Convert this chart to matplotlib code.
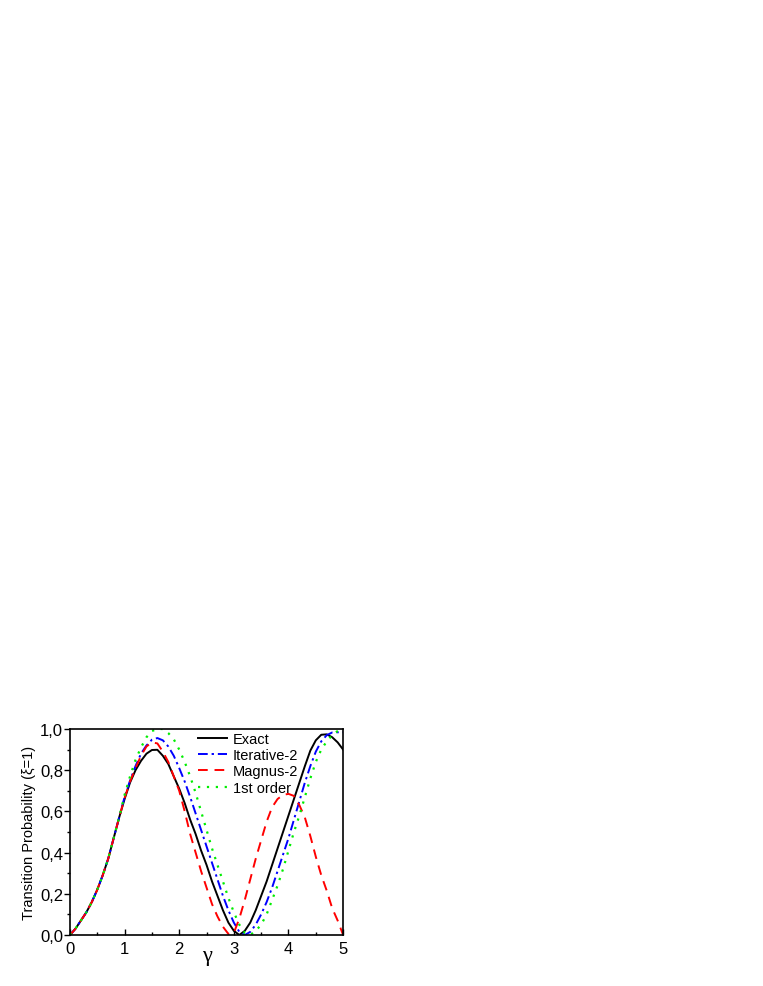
import matplotlib.pyplot as plt
from matplotlib.ticker import MultipleLocator

gamma = [0.0, 0.1, 0.2, 0.3, 0.4, 0.5, 0.6, 0.7, 0.8, 0.9,
         1.0, 1.1, 1.2, 1.3, 1.4, 1.5, 1.6, 1.7, 1.8, 1.9,
         2.0, 2.1, 2.2, 2.3, 2.4, 2.5, 2.6, 2.7, 2.8, 2.9,
         3.0, 3.1, 3.2, 3.3, 3.4, 3.5, 3.6, 3.7, 3.8, 3.9,
         4.0, 4.1, 4.2, 4.3, 4.4, 4.5, 4.6, 4.7, 4.8, 4.9, 5.0]

exact = [0.0, 0.03, 0.07, 0.11, 0.16, 0.22, 0.29, 0.37, 0.47, 0.57,
         0.66, 0.74, 0.80, 0.845, 0.88, 0.898, 0.899, 0.87, 0.83, 0.77,
         0.71, 0.64, 0.56, 0.49, 0.41, 0.34, 0.26, 0.19, 0.12, 0.06,
         0.02, 0.0, 0.02, 0.06, 0.12, 0.19, 0.26, 0.34, 0.42, 0.50,
         0.58, 0.66, 0.74, 0.82, 0.895, 0.945, 0.972, 0.974, 0.96, 0.935, 0.90]

iterative2 = [0.0, 0.03, 0.07, 0.11, 0.16, 0.22, 0.29, 0.37, 0.47, 0.57,
              0.67, 0.75, 0.82, 0.88, 0.92, 0.948, 0.956, 0.945, 0.915, 0.87,
              0.81, 0.745, 0.67, 0.59, 0.51, 0.43, 0.35, 0.27, 0.19, 0.12,
              0.06, 0.015, 0.0, 0.015, 0.05, 0.10, 0.16, 0.23, 0.31, 0.39,
              0.47, 0.56, 0.65, 0.74, 0.82, 0.89, 0.94, 0.97, 0.983, 0.984, 0.984]

magnus2 = [0.0, 0.03, 0.07, 0.11, 0.16, 0.22, 0.29, 0.37, 0.47, 0.57,
           0.665, 0.745, 0.81, 0.87, 0.915, 0.935, 0.93, 0.89, 0.84, 0.77,
           0.70, 0.60, 0.49, 0.40, 0.31, 0.23, 0.15, 0.09, 0.04, 0.005,
           0.01, 0.08, 0.17, 0.27, 0.37, 0.46, 0.55, 0.62, 0.66, 0.68,
           0.685, 0.675, 0.63, 0.57, 0.48, 0.38, 0.29, 0.215, 0.13, 0.07, 0.0]

first_order = [0.0, 0.03, 0.07, 0.11, 0.16, 0.22, 0.29, 0.37, 0.47, 0.57,
               0.68, 0.77, 0.85, 0.91, 0.96, 0.99, 1.0, 1.0, 0.98, 0.95,
               0.90, 0.84, 0.77, 0.69, 0.60, 0.51, 0.42, 0.34, 0.26, 0.18,
               0.11, 0.05, 0.01, 0.0, 0.02, 0.05, 0.10, 0.17, 0.24, 0.32,
               0.41, 0.50, 0.58, 0.67, 0.76, 0.84, 0.90, 0.94, 0.97, 0.99, 1.0]

xticklabels = ['0', '1', '2', '3', '4', '5']
yticklabels = ['0,0', '0,2', '0,4', '0,6', '0,8', '1,0']

plt.rcParams['font.family'] = ['Liberation Sans', 'DejaVu Sans']

fig = plt.figure(figsize=(7.63, 9.87), dpi=100)
ax = fig.add_axes([0.0917, 0.0517, 0.358, 0.2087])

ax.plot(gamma, exact, color='black', lw=1.4, label='Exact')
ax.plot(gamma, iterative2, color='#0000ff', lw=1.4, dashes=(5, 2, 1.2, 2), label='Iterative-2')
ax.plot(gamma, magnus2, color='#ff0000', lw=1.4, dashes=(5, 3.5), label='Magnus-2')
ax.plot(gamma, first_order, color='#00ee00', lw=1.6, dashes=(1, 3), label='1st order')

ax.set_xlim(0, 5)
ax.set_ylim(0, 1)
ax.set_xticks(range(6))
ax.set_xticklabels(xticklabels)
ax.set_yticks([0.0, 0.2, 0.4, 0.6, 0.8, 1.0])
ax.set_yticklabels(yticklabels)
ax.xaxis.set_minor_locator(MultipleLocator(0.5))
ax.yaxis.set_minor_locator(MultipleLocator(0.1))
ax.tick_params(axis='x', which='major', direction='in', length=4, width=1, labelsize=12, pad=4)
ax.tick_params(axis='x', which='minor', direction='in', length=2, width=1)
ax.tick_params(axis='y', which='major', direction='out', length=4, width=1, labelsize=12, pad=1)
ax.tick_params(axis='y', which='minor', direction='out', length=2.5, width=1)
for s in ax.spines.values():
    s.set_linewidth(1.2)

ax.set_ylabel('Transition Probability (\u03be=1)', fontsize=10.5, labelpad=3)
ax.text(0.5, -0.1, '\u03b3', transform=ax.transAxes, ha='center', va='center',
        fontsize=16, family=['Liberation Serif', 'DejaVu Serif'])

ax.legend(loc='upper left', bbox_to_anchor=(0.469, 0.985), frameon=False, fontsize=10.5,
          borderpad=0, borderaxespad=0, handlelength=2.0, handletextpad=0.4, labelspacing=0.15)

plt.savefig('out.png', dpi=100)
